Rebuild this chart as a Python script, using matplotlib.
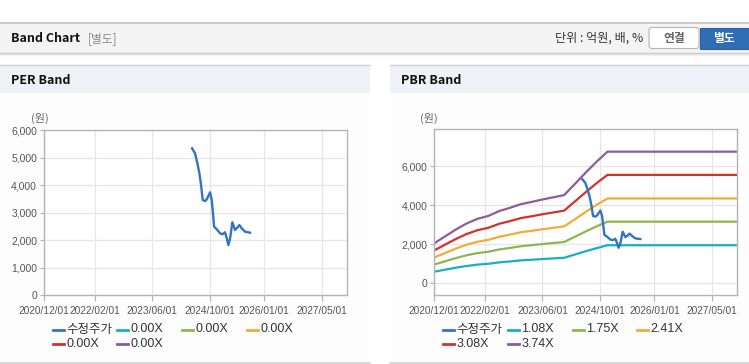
import matplotlib
matplotlib.use('Agg')
import matplotlib.pyplot as plt
import matplotlib.dates as mdates
from matplotlib.patches import Rectangle, FancyBboxPatch
from matplotlib.lines import Line2D
import pandas as pd

plt.rcParams['font.family'] = ['Noto Sans CJK KR', 'DejaVu Sans']

# ---------------- data ----------------
price_dates = ['2024-05-03', '2024-05-28', '2024-06-17', '2024-07-04', '2024-07-18',
               '2024-08-01', '2024-08-21', '2024-09-04', '2024-10-02', '2024-10-16',
               '2024-10-25', '2024-11-05', '2024-11-27', '2024-12-25', '2025-01-14',
               '2025-02-05', '2025-02-20', '2025-03-05', '2025-03-20', '2025-04-08',
               '2025-05-01', '2025-05-15', '2025-06-06', '2025-06-26', '2025-07-24',
               '2025-09-04']
price_values = [5333, 5152, 4788, 4425, 4000, 3454, 3418, 3480, 3734, 3454,
                3030, 2484, 2390, 2243, 2207, 2280, 2062, 1818, 2062, 2643,
                2364, 2425, 2545, 2425, 2302, 2266]

bps_dates = ['2020-12-01', '2021-03-01', '2021-06-01', '2021-09-01', '2021-12-01',
             '2022-03-01', '2022-06-01', '2022-09-01', '2022-12-01', '2023-03-01',
             '2023-06-01', '2023-09-01', '2023-12-01', '2024-03-01', '2024-06-01',
             '2024-09-01', '2024-12-01', '2027-12-01']
bps_values = [548, 642, 737, 821, 884, 923, 990, 1035, 1085, 1115,
              1149, 1179, 1209, 1362, 1519, 1669, 1805, 1805]

pbr_multiples = [1.08, 1.75, 2.41, 3.08, 3.74]
per_multiples = [0.00, 0.00, 0.00, 0.00, 0.00]
band_colors = ['#19aec6', '#8db651', '#f2ab3a', '#d4302c', '#8e5b9b']
price_color = '#3373c4'
price_label = '수정주가'

x_tick_labels = ['2020/12/01', '2022/02/01', '2023/06/01', '2024/10/01', '2026/01/01', '2027/05/01']
x_range = ['2020-12-01', '2027-12-01']
per_yticks = [0, 1000, 2000, 3000, 4000, 5000, 6000]
pbr_yticks = [0, 2000, 4000, 6000]

# ---------------- figure ----------------
W, H = 749, 364
fig = plt.figure(figsize=(W / 100, H / 100), dpi=100)
bg = fig.add_axes([0, 0, 1, 1])
bg.set_xlim(0, W)
bg.set_ylim(H, 0)
bg.axis('off')
bg.set_zorder(0)

# header bar
bg.add_patch(Rectangle((0, 22), W, 31, fc='#f4f4f4', ec='none'))
bg.plot([0, W], [22.5, 22.5], color='#c2c2c2', lw=1.2)
bg.plot([0, W], [53, 53], color='#c8c8c8', lw=1.0)
bg.plot([0, W], [54.2, 54.2], color='#e2e2e2', lw=1.0)
bg.plot([0, W], [55.3, 55.3], color='#f0f0f0', lw=1.0)
bg.text(11, 38, 'Band Chart', fontsize=9, fontweight='bold', color='#111111', va='center', ha='left')
bg.text(88, 38.5, '[별도]', fontsize=8.5, color='#8a8a8a', va='center', ha='left')
bg.text(643, 38.5, '단위 : 억원, 배, %', fontsize=8.7, color='#333333', va='center', ha='right')
bg.add_patch(FancyBboxPatch((649, 27.5), 50, 21, boxstyle='round,pad=0,rounding_size=3',
                            fc='white', ec='#b5b5b5', lw=0.8))
bg.text(674, 38.5, '연결', fontsize=8.5, fontweight='bold', color='#666666', va='center', ha='center')
bg.add_patch(Rectangle((699.5, 27.5), 50, 21, fc='#2f6db5', ec='#2a62a3', lw=0.8))
bg.text(724, 38.5, '별도', fontsize=8.5, fontweight='bold', color='white', va='center', ha='center')

# panels
panels = [(0, 370, 'PER Band'), (390, 749, 'PBR Band')]
for x0, x1, title in panels:
    bg.add_patch(Rectangle((x0, 64), x1 - x0, 299, fc='#fdfdfd', ec='none'))
    bg.add_patch(Rectangle((x0, 65), x1 - x0, 28, fc='#eef2f7', ec='none'))
    bg.plot([x0, x1], [64.5, 64.5], color='#d4d4d4', lw=1.0)
    bg.plot([x0, x1], [363, 363], color='#d0d0d0', lw=1.2)
    bg.text(x0 + 11, 80.5, title, fontsize=9, fontweight='bold', color='#111111', va='center', ha='left')

bg.text(40, 118, '(원)', fontsize=8, color='#666666', va='center', ha='center')
bg.text(429, 118, '(원)', fontsize=8, color='#666666', va='center', ha='center')


def px_axes(x0, y0, x1, y1):
    return fig.add_axes([x0 / W, (H - y1) / H, (x1 - x0) / W, (y1 - y0) / H])


pdates = pd.to_datetime(price_dates)
bdates = pd.to_datetime(bps_dates)
tick_dates = pd.to_datetime([t.replace('/', '-') for t in x_tick_labels])
xr = pd.to_datetime(x_range)


def style_axes(ax, yticks, ylim):
    ax.set_facecolor('white')
    ax.set_xlim(xr[0], xr[1])
    ax.set_ylim(*ylim)
    ax.set_xticks(tick_dates)
    ax.set_xticklabels(x_tick_labels, family=['Liberation Sans'], fontsize=7.3, color='#555555')
    ax.set_yticks(yticks)
    ax.set_yticklabels([f'{v:,}' for v in yticks], family=['Liberation Sans'], fontsize=7.5, color='#555555')
    ax.grid(True, color='#e6e6e6', lw=0.9)
    ax.set_axisbelow(True)
    for s in ax.spines.values():
        s.set_color('#b4b4b4')
        s.set_linewidth(1.0)
    ax.tick_params(axis='x', length=4, width=0.8, color='#b4b4b4', pad=4)
    ax.tick_params(axis='y', length=3, width=0.8, color='#b4b4b4', pad=2)
    ax.set_zorder(2)


# PER
ax1 = px_axes(44, 130, 347, 295)
style_axes(ax1, per_yticks, (0, 6000))
ax1.plot(pdates, price_values, color=price_color, lw=1.7, solid_joinstyle='round')

# PBR
ax2 = px_axes(434.3, 128.7, 737.3, 295.3)
style_axes(ax2, pbr_yticks, (-620, 7930))
for m, c in zip(pbr_multiples, band_colors):
    ax2.plot(bdates, [b * m for b in bps_values], color=c, lw=1.6)
ax2.plot(pdates, price_values, color=price_color, lw=1.7, solid_joinstyle='round')


def legend(cols, rows, multiples):
    labels = [price_label] + [f'{m:.2f}X' for m in multiples]
    colors = [price_color] + band_colors
    for i, (lab, col) in enumerate(zip(labels, colors)):
        r, cidx = divmod(i, 4)
        x = cols[cidx]
        y = rows[r]
        bg.add_line(Line2D([x, x + 11], [y, y], color=col, lw=2.0))
        bg.text(x + 13.5, y, lab, fontsize=9, color='#333333', va='center', ha='left',
                family=['Liberation Sans', 'Noto Sans CJK KR'] if i else ['Noto Sans CJK KR'])


legend([53, 117, 182, 247], [329.5, 344], per_multiples)
legend([443, 508, 573, 637], [329.5, 344], pbr_multiples)

fig.savefig('out.png', dpi=100)
